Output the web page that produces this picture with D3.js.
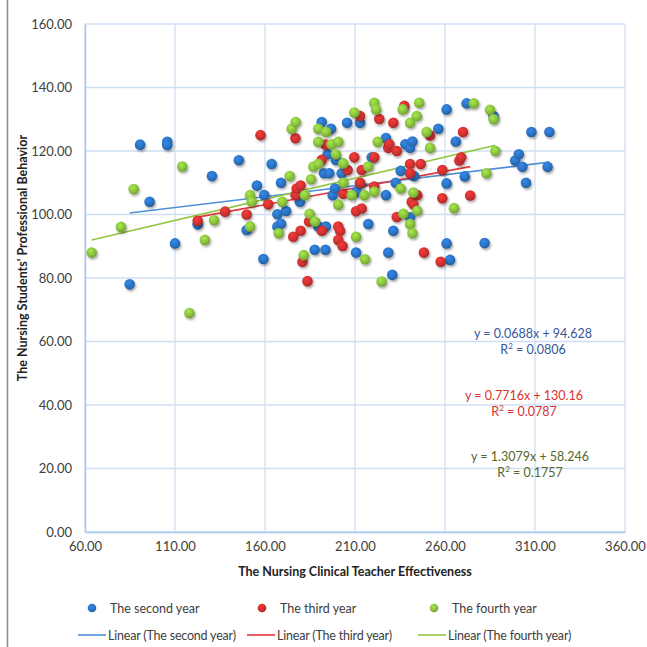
<!DOCTYPE html>
<html>
<head>
<meta charset="utf-8">
<script src="https://cdn.jsdelivr.net/npm/d3@7"></script>
<style>
  body { margin: 0; background: #fff; }
  text { font-family: Lato, "Open Sans", sans-serif; }
</style>
</head>
<body>
<div class="chart"></div>
<script>
const svgSize = { width: 647, height: 647 };
const margin = { top: 24, right: 22, bottom: 115, left: 85 };
const width  = svgSize.width  - margin.left - margin.right;
const height = svgSize.height - margin.top  - margin.bottom;

const xTicks = [60, 110, 160, 210, 260, 310, 360];
const yTicks = [0, 20, 40, 60, 80, 100, 120, 140, 160];

const seriesNames = ['The second year', 'The third year', 'The fourth year'];

// [teacher effectiveness, professional behavior]
const secondYear = [
    [84.8, 78.0], [90.6, 122.0], [95.9, 104.0], [105.7, 122.9], [105.7, 121.9], [110, 90.9],
    [122.6, 96.9], [130.5, 112.1], [145.5, 117.1], [149.8, 95.1], [155.5, 109.1], [159.1, 86.0],
    [159.6, 106.1], [163.7, 115.9], [166.9, 100.1], [166.9, 96.2], [168.9, 97.1], [168.9, 110.0],
    [171.7, 101.1], [179.4, 104.0], [187.6, 88.9], [189.6, 96.2], [191.5, 129.1], [192.8, 113.0],
    [193.8, 96.2], [193.6, 88.9], [194.8, 119.0], [195.7, 113.0], [196.7, 127.0], [197.6, 106.1],
    [198.9, 108.2], [199.4, 117.2], [202.6, 113.0], [205.6, 128.9], [210.6, 88.0], [210.9, 107.2],
    [212.8, 109.8], [212.8, 128.9], [217.4, 97.0], [219.3, 118.0], [227.2, 124.1], [227.2, 106.1],
    [228.5, 88.0], [230.7, 81.0], [231.3, 94.9], [232.6, 110.0], [235.4, 113.8], [238.0, 122.1],
    [240.6, 121.0], [240.6, 99.1], [241.9, 123.0], [242.8, 112.1], [256.3, 127.0], [260.9, 133.1],
    [260.9, 109.8], [260.9, 90.9], [262.8, 85.7], [266, 123], [271, 112], [272, 135], [282, 91],
    [287, 131], [299, 117], [301, 119], [303, 115], [305, 110], [308, 126], [317, 115], [318, 126]
];
const thirdYear = [
    [122.6, 98.0], [137.8, 100.9], [149.8, 100.0], [157.5, 125.0], [161.8, 103.2], [175.7, 93.0],
    [176.9, 124.0], [177.0, 106.1], [177.6, 108.2], [179.8, 109.1], [179.8, 94.9], [180.8, 85.1],
    [183.6, 79.0], [184.5, 97.8], [191.5, 117.2], [191.6, 94.9], [193.6, 122.0], [200.7, 96.2],
    [201.7, 94.9], [200.7, 92.0], [203.1, 90.1], [203.5, 106.5], [205.9, 114.0], [209.6, 118.0],
    [210.6, 101.0], [212.8, 131.0], [212.8, 110.0], [213.7, 114.0], [213.7, 101.9], [220.7, 118.0],
    [220.7, 108.8], [223.5, 130.1], [228.5, 121.0], [229.1, 122.1], [231.3, 128.9], [233.2, 120.0],
    [233.2, 99.2], [237.4, 134.2], [240.6, 115.9], [240.6, 113.0], [241.5, 104.0], [242.4, 103.2],
    [244.6, 106.1], [246.5, 115.9], [248.3, 88.0], [251.7, 124.9], [257.6, 85.1], [258.5, 105.1],
    [258.5, 114.0], [268, 117], [269, 118], [270, 126], [274, 106]
];
const fourthYear = [
    [63.7, 88.0], [80.0, 96.1], [87.0, 108.0], [114.0, 115.1], [118.0, 69.0], [126.6, 92.0],
    [131.7, 98.2], [151.7, 106.1], [152.6, 104.0], [151.7, 96.2], [167.6, 94.1], [169.6, 104.0],
    [173.7, 112.1], [174.8, 127.0], [177.0, 129.1], [181.5, 87.2], [182.2, 106.1], [184.8, 100.2],
    [185.6, 111.1], [186.9, 115.1], [187.8, 97.8], [189.6, 115.9], [189.6, 122.9], [189.6, 127.0],
    [193.9, 126.0], [197.0, 122.1], [199.4, 119.0], [200.7, 122.9], [200.7, 103.1], [203.5, 116.1],
    [203.5, 110.0], [208.2, 106.1], [209.6, 132.1], [210.6, 93.0], [215.2, 106.1], [215.6, 85.9],
    [217.4, 115.1], [220.7, 135.2], [221.7, 133.1], [220.7, 107.2], [222.6, 122.9], [224.8, 78.9],
    [235.4, 108.2], [236.5, 133.1], [236.9, 100.2], [240.6, 128.9], [240.6, 97.0], [241.9, 94.1],
    [242.4, 106.9], [244.3, 131.0], [244.6, 101.2], [245.7, 135.2], [249.8, 126.0], [251.7, 121.0],
    [265, 102], [276, 135], [283, 113], [285, 133], [287, 130], [288, 120]
];

// trend lines as drawn in the picture: slope, intercept
const trendSlope     = [0.0688, 0.105, 0.133];
const trendIntercept = [94.628, 86.3, 83.5];

const eqLabels = ['y = 0.0688x + 94.628', 'y = 0.7716x + 130.16', 'y = 1.3079x + 58.246'];
const r2Labels = ['0.0806', '0.0787', '0.1757'];

const dotColors  = ['#2a6fbd', '#c9302f', '#86bd3c'];
const lineColors = ['#4f8fd6', '#e2373b', '#93c641'];
const eqColors   = ['#34589a', '#d8322f', '#56662c'];

const allSeries = [secondYear, thirdYear, fourthYear];

const svg = d3.select('.chart')
    .append('svg')
    .attr('width', svgSize.width)
    .attr('height', svgSize.height)
;

// dot shading
const defs = svg.append('defs');
dotColors.forEach((c, i) => {
    const g = defs.append('radialGradient')
        .attr('id', `dot${i}`)
        .attr('cx', '40%').attr('cy', '35%').attr('r', '65%');
    g.append('stop').attr('offset', '0%').attr('stop-color', d3.color(c).brighter(0.6));
    g.append('stop').attr('offset', '70%').attr('stop-color', c);
    g.append('stop').attr('offset', '100%').attr('stop-color', d3.color(c).darker(0.5));
});
const shadow = defs.append('filter').attr('id', 'shadow')
    .attr('x', '-50%').attr('y', '-50%').attr('width', '200%').attr('height', '200%');
shadow.append('feDropShadow')
    .attr('dx', 1.2).attr('dy', 1.8).attr('stdDeviation', 1.1)
    .attr('flood-color', '#000').attr('flood-opacity', 0.35);

// chart border on the left
svg.append('line')
    .attr('x1', 7.5).attr('x2', 7.5).attr('y1', 0).attr('y2', svgSize.height)
    .attr('stroke', '#8c8c8c').attr('stroke-width', 1.5);

const graph = svg.append('g')
    .attr('transform', `translate(${margin.left}, ${margin.top})`)
;

const xScale = d3.scaleLinear().domain([60, 360]).range([0, width]);
const yScale = d3.scaleLinear().domain([0, 160]).range([height, 0]);

// grid
graph.append('g')
    .selectAll('line.h')
    .data(yTicks)
    .join('line')
    .attr('x1', 0).attr('x2', width)
    .attr('y1', d => yScale(d)).attr('y2', d => yScale(d))
    .attr('stroke', '#cfdff3').attr('stroke-width', 1.3)
;
graph.append('g')
    .selectAll('line.v')
    .data(xTicks)
    .join('line')
    .attr('x1', d => xScale(d)).attr('x2', d => xScale(d))
    .attr('y1', 0).attr('y2', height)
    .attr('stroke', '#cfdff3').attr('stroke-width', 1.3)
;

// axes
const xAxis = d3.axisBottom(xScale).tickValues(xTicks).tickFormat(d3.format('.2f')).tickSize(0).tickPadding(10);
const yAxis = d3.axisLeft(yScale).tickValues(yTicks).tickFormat(d3.format('.2f')).tickSize(0).tickPadding(13);

const xAxisGroup = graph.append('g').attr('transform', `translate(0, ${height})`).call(xAxis);
const yAxisGroup = graph.append('g').call(yAxis);
[xAxisGroup, yAxisGroup].forEach(g => {
    g.select('.domain').attr('stroke', '#a9c9ec').attr('stroke-width', 1.5);
    g.selectAll('text')
        .attr('fill', '#404040')
        .style('font-family', 'Lato, sans-serif')
        .style('font-size', '13px');
});

// trend lines
allSeries.forEach((data, i) => {
    const ext = d3.extent(data, d => d[0]);
    graph.append('line')
        .attr('x1', xScale(ext[0])).attr('y1', yScale(trendSlope[i] * ext[0] + trendIntercept[i]))
        .attr('x2', xScale(ext[1])).attr('y2', yScale(trendSlope[i] * ext[1] + trendIntercept[i]))
        .attr('stroke', lineColors[i])
        .attr('stroke-width', 1.6)
    ;
});

// points
allSeries.forEach((data, i) => {
    graph.append('g')
        .attr('filter', 'url(#shadow)')
        .selectAll('circle')
        .data(data)
        .join('circle')
        .attr('cx', d => xScale(d[0]))
        .attr('cy', d => yScale(d[1]))
        .attr('r', 5.3)
        .attr('fill', `url(#dot${i})`)
    ;
});

// equations
const eqPos = [[533, 61], [524, 41.5], [530, 22.5]];
eqLabels.forEach((t, i) => {
    const cx = eqPos[i][0] - margin.left;
    const cy = yScale(eqPos[i][1]);
    graph.append('text')
        .attr('x', cx).attr('y', cy)
        .attr('text-anchor', 'middle')
        .attr('fill', eqColors[i])
        .style('font-size', '12.5px')
        .text(t);
    const r2 = graph.append('text')
        .attr('x', cx).attr('y', cy + 16)
        .attr('text-anchor', 'middle')
        .attr('fill', eqColors[i])
        .style('font-size', '12.5px');
    r2.append('tspan').text('R');
    r2.append('tspan').attr('dy', -5).style('font-size', '8px').text('2');
    r2.append('tspan').attr('dy', 5).text(' = ' + r2Labels[i]);
});

// axis titles
svg.append('text')
    .attr('x', margin.left + width / 2).attr('y', 576)
    .attr('text-anchor', 'middle')
    .attr('fill', '#222')
    .style('font-size', '12.5px').style('font-weight', 'bold')
    .text('The Nursing Clinical Teacher Effectiveness');
svg.append('text')
    .attr('transform', 'translate(27, 258) rotate(-90)')
    .attr('text-anchor', 'middle')
    .attr('fill', '#222')
    .style('font-size', '12.5px').style('font-weight', 'bold')
    .text("The Nursing Students' Professional Behavior");

// legend
const dotX = [92, 262, 434];
const lineX = [78, 247, 418];
seriesNames.forEach((name, i) => {
    svg.append('circle')
        .attr('cx', dotX[i]).attr('cy', 608).attr('r', 4.3)
        .attr('fill', `url(#dot${i})`);
    svg.append('text')
        .attr('x', dotX[i] + 18).attr('y', 612.5)
        .attr('fill', '#404040').style('font-size', '12.5px')
        .text(name);
    svg.append('line')
        .attr('x1', lineX[i]).attr('x2', lineX[i] + 28)
        .attr('y1', 635).attr('y2', 635)
        .attr('stroke', lineColors[i]).attr('stroke-width', 1.6);
    svg.append('text')
        .attr('x', lineX[i] + 30).attr('y', 639.5)
        .attr('fill', '#404040').style('font-size', '12.5px')
        .style('letter-spacing', '-0.2px')
        .text(`Linear (${name})`);
});
</script>
</body>
</html>
